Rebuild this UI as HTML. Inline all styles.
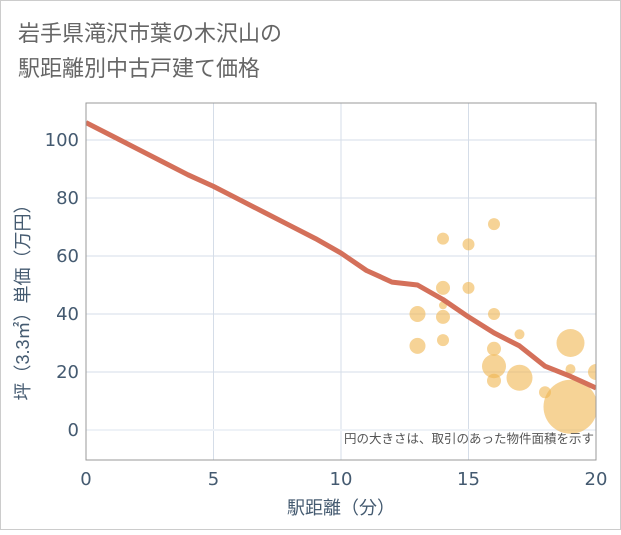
<!DOCTYPE html>
<html><head><meta charset="utf-8"><style>
body{margin:0;background:#fff;font-family:"Liberation Sans","Noto Sans CJK JP",sans-serif;}
</style></head><body>
<svg width="621" height="530" xmlns="http://www.w3.org/2000/svg">
<rect x="0.5" y="0.5" width="620" height="529" fill="#fff" stroke="#ccc"/>
<text x="18" y="41" font-size="22" fill="#666" font-family="Liberation Sans,Noto Sans CJK JP,sans-serif">岩手県滝沢市葉の木沢山の</text>
<text x="18" y="76" font-size="22" fill="#666" font-family="Liberation Sans,Noto Sans CJK JP,sans-serif">駅距離別中古戸建て価格</text>
<g id="grid"></g>
<g id="marks"></g>
<rect x="86" y="103" width="510" height="357" fill="none" stroke="#999"/>
<g id="ticks" font-size="18" fill="#445a70" font-family="DejaVu Sans,sans-serif"></g>
<text x="341" y="514" font-size="18" fill="#445a70" text-anchor="middle" font-family="Liberation Sans,Noto Sans CJK JP,sans-serif">駅距離（分）</text>
<text transform="translate(29,298) rotate(-90)" font-size="18" fill="#445a70" text-anchor="middle" font-family="Liberation Sans,Noto Sans CJK JP,sans-serif">坪（3.3㎡）単価（万円）</text>
<text x="594" y="443" font-size="12.5" fill="#555" text-anchor="end" font-family="Liberation Sans,Noto Sans CJK JP,sans-serif">円の大きさは、取引のあった物件面積を示す</text>
</svg>
<script>
const xTicks=[0,5,10,15,20];
const yTicks=[0,20,40,60,80,100];
const lineX=[0,1,2,3,4,5,6,7,8,9,10,11,12,13,14,15,16,17,18,19,20];
const lineY=[106,101.5,97,92.5,88,84,79.5,75,70.5,66,61,55,51,50,45,39,33.5,29,22,18.5,14.5];
const bubX=[13,13,14,14,14,14,14,15,15,16,16,16,16,16,17,17,18,19,19,19,20];
const bubY=[40,29,66,49,43,39,31,64,49,71,40,28,22,17,33,18,13,30,21,8,20];
const bubR=[8,8,6,7,4,7,6,6,6,6,6,7,12,7,5,13,6,14,5,27,8];
const sx=v=>86+v*(510/20);
const sy=v=>430-v*2.9;
const NS="http://www.w3.org/2000/svg";
const grid=document.getElementById('grid'),marks=document.getElementById('marks'),ticks=document.getElementById('ticks');
function mk(t,a){const e=document.createElementNS(NS,t);for(const k in a)e.setAttribute(k,a[k]);return e;}
xTicks.forEach(v=>{const l=mk('line',{x1:sx(v),x2:sx(v),y1:103,y2:460,stroke:'#d5dde8'});

grid.appendChild(l);
const t=mk('text',{x:sx(v),y:485,'text-anchor':'middle'});t.textContent=v;

ticks.appendChild(t);});
yTicks.forEach(v=>{const l=mk('line',{x1:86,x2:596,y1:sy(v),y2:sy(v),stroke:v===0?'#eef2f7':'#d5dde8','stroke-width':v===0?2:1});

grid.appendChild(l);
const t=mk('text',{x:79,y:sy(v)+6,'text-anchor':'end'});t.textContent=v;

ticks.appendChild(t);});
const cp=mk('clipPath',{id:'clip'});cp.appendChild(mk('rect',{x:86,y:103,width:510,height:357}));marks.appendChild(cp);
const bg=mk('g',{'clip-path':'url(#clip)'});marks.appendChild(bg);
bubX.forEach((x,i)=>{const c=mk('circle',{cx:sx(x),cy:sy(bubY[i]),r:bubR[i],fill:'#f0b550','fill-opacity':0.6});

bg.appendChild(c);});
const p=mk('polyline',{points:lineX.map((x,i)=>sx(x)+','+sy(lineY[i])).join(' '),fill:'none',stroke:'#d4705a','stroke-width':5,'stroke-linejoin':'round'});

bg.appendChild(p);
</script>
</body></html>
